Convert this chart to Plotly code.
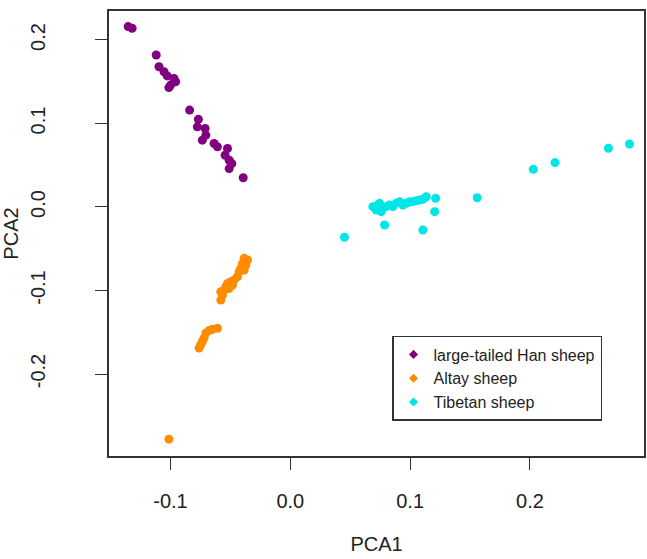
import plotly.graph_objects as go

# large-tailed Han sheep
han_x = [-0.1353, -0.1320, -0.1119, -0.1096, -0.1054, -0.1027, -0.0971, -0.0957, -0.0999, -0.1013,
         -0.0840, -0.0767, -0.0776, -0.0711, -0.0705, -0.0734, -0.0636, -0.0608, -0.0524, -0.0544,
         -0.0510, -0.0488, -0.0510, -0.0393]
han_y = [0.216, 0.214, 0.182, 0.168, 0.162, 0.157, 0.154, 0.150, 0.146, 0.143,
         0.116, 0.105, 0.096, 0.094, 0.086, 0.080, 0.076, 0.072, 0.070, 0.062,
         0.056, 0.052, 0.046, 0.035]

# Altay sheep
altay_x = [-0.0385, -0.0357, -0.0399, -0.0371, -0.0413, -0.0385, -0.0427, -0.0441, -0.0469, -0.0496,
           -0.0524, -0.0483, -0.0538, -0.0510, -0.0552, -0.0580, -0.0566, -0.0580, -0.0608, -0.0650,
           -0.0678, -0.0705, -0.0720, -0.0734, -0.0747, -0.0761, -0.1013]
altay_y = [-0.0615, -0.0635, -0.0675, -0.0695, -0.0735, -0.0755, -0.0775, -0.0835, -0.0875, -0.0895,
           -0.0915, -0.0935, -0.0955, -0.0975, -0.0995, -0.1015, -0.1055, -0.1115, -0.1453, -0.1465,
           -0.1480, -0.1510, -0.1570, -0.1610, -0.1650, -0.1690, -0.2780]

# Tibetan sheep
tibet_x = [0.0452, 0.0787, 0.1107, 0.1205, 0.1213, 0.1135, 0.0689, 0.0717, 0.0745, 0.0772,
           0.0801, 0.0828, 0.0856, 0.0884, 0.0912, 0.0940, 0.0968, 0.0996, 0.1023, 0.1052,
           0.1079, 0.1107, 0.0759, 0.0731, 0.1560, 0.2028, 0.2209, 0.2655, 0.2831]
tibet_y = [-0.0363, -0.0216, -0.0275, -0.0056, 0.0104, 0.0123, 0.0004, -0.0036, 0.0044, -0.0016,
           0.0004, 0.0024, 0.0004, 0.0044, 0.0064, 0.0024, 0.0044, 0.0064, 0.0064, 0.0076,
           0.0084, 0.0092, -0.0056, 0.0024, 0.0110, 0.0451, 0.0532, 0.0703, 0.0754]

names = ["large-tailed Han sheep", "Altay sheep", "Tibetan sheep"]
colors = ["#800080", "#FF8C00", "#00E6E6"]
tick_vals_x = [-0.1, 0.0, 0.1, 0.2]
tick_text_x = ["-0.1", "0.0", "0.1", "0.2"]
tick_vals_y = [-0.2, -0.1, 0.0, 0.1, 0.2]
tick_text_y = ["-0.2", "-0.1", "0.0", "0.1", "0.2"]

FONT = "Liberation Sans, Arial, sans-serif"
fig = go.Figure()
for xs, ys, nm, c in zip([han_x, altay_x, tibet_x], [han_y, altay_y, tibet_y], names, colors):
    fig.add_trace(go.Scatter(x=xs, y=ys, mode="markers", name=nm, showlegend=False,
                             marker=dict(color=c, size=9, line=dict(width=0))))
for nm, c in zip(names, colors):
    fig.add_trace(go.Scatter(x=[None], y=[None], mode="markers", name=nm,
                             marker=dict(color=c, size=7, symbol="diamond", line=dict(width=0))))

axis_common = dict(showgrid=False, zeroline=False, showline=True, mirror=True,
                   linecolor="#333333", linewidth=1.5, ticks="outside", ticklen=12,
                   tickwidth=1.2, tickcolor="#333333", automargin=False,
                   tickfont=dict(family=FONT, size=20, color="#222222"))

fig.update_layout(
    width=647, height=559,
    margin=dict(l=109, r=3, t=11, b=103),
    paper_bgcolor="white", plot_bgcolor="white",
    font=dict(family=FONT, color="#222222"),
    xaxis=dict(range=[-0.1513, 0.2952], tickvals=tick_vals_x, ticktext=tick_text_x,
               ticklabelstandoff=14,
               title=dict(text="PCA1", font=dict(family=FONT, size=20, color="#222222"), standoff=26),
               **axis_common),
    yaxis=dict(range=[-0.2982, 0.2347], tickvals=tick_vals_y, ticktext=tick_text_y,
               tickangle=-90, ticklabelstandoff=42,
               title=dict(text="PCA2", font=dict(family=FONT, size=20, color="#222222"), standoff=5),
               **axis_common),
    legend=dict(x=0.529, y=0.2697, xanchor="left", yanchor="top",
                bordercolor="#333333", borderwidth=1.5, bgcolor="white",
                font=dict(family=FONT, size=16, color="#222222"),
                itemwidth=30, tracegroupgap=0),
)

fig.write_html("out.html")
